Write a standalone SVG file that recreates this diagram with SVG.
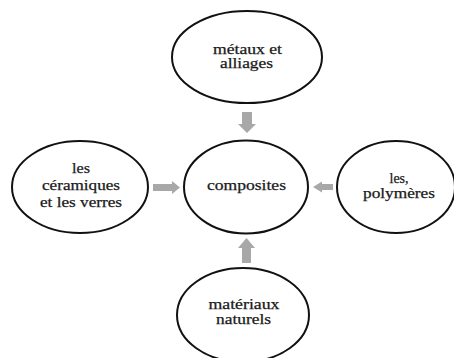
<svg xmlns="http://www.w3.org/2000/svg" width="454" height="358" viewBox="0 0 454 358">
<style>
.node ellipse{fill:#fff;stroke:#111;stroke-width:2}
.node text{font-family:"Liberation Serif","Times New Roman",serif;font-size:14px;fill:#1a1a1a;text-anchor:middle;stroke:#1a1a1a;stroke-width:0.25}
.arrow{fill:#a8a8a8}
</style>
<rect width="454" height="358" fill="#fff"/>
<g id="connectors">
<polygon class="arrow" points="242,112 252,112 252,124 256,124 247,133 238,124 242,124"/>
<polygon class="arrow" points="242,263 251,263 251,248 255,248 246.5,238 238,248 242,248"/>
<polygon class="arrow" points="153,184 172,184 172,181 180,187.5 172,194 172,191 153,191"/>
<polygon class="arrow" points="333,184 322,184 322,181.5 313,187 322,192.5 322,190 333,190"/>
</g>
<g id="top" class="node">
<ellipse cx="247" cy="57" rx="75" ry="46"/>
<text x="247.5" y="54" textLength="69" lengthAdjust="spacingAndGlyphs">métaux et</text>
<text x="246.5" y="68" textLength="53" lengthAdjust="spacingAndGlyphs">alliages</text>
</g>
<g id="left" class="node">
<ellipse cx="80" cy="187" rx="68" ry="46"/>
<text x="81" y="173" textLength="18" lengthAdjust="spacingAndGlyphs">les</text>
<text x="81" y="190" textLength="78" lengthAdjust="spacingAndGlyphs">céramiques</text>
<text x="81" y="207" textLength="82" lengthAdjust="spacingAndGlyphs">et les verres</text>
</g>
<g id="center" class="node">
<ellipse cx="246" cy="187" rx="62" ry="46.5"/>
<text x="246.5" y="190" textLength="79" lengthAdjust="spacingAndGlyphs">composites</text>
</g>
<g id="right" class="node">
<ellipse cx="396" cy="187" rx="59" ry="46"/>
<text x="399" y="183" textLength="19" lengthAdjust="spacingAndGlyphs">les,</text>
<text x="399" y="198" textLength="72" lengthAdjust="spacingAndGlyphs">polymères</text>
</g>
<g id="bottom" class="node">
<ellipse cx="243" cy="315" rx="66" ry="47"/>
<text x="244" y="309" textLength="71" lengthAdjust="spacingAndGlyphs">matériaux</text>
<text x="243.5" y="324" textLength="55" lengthAdjust="spacingAndGlyphs">naturels</text>
</g>
</svg>
